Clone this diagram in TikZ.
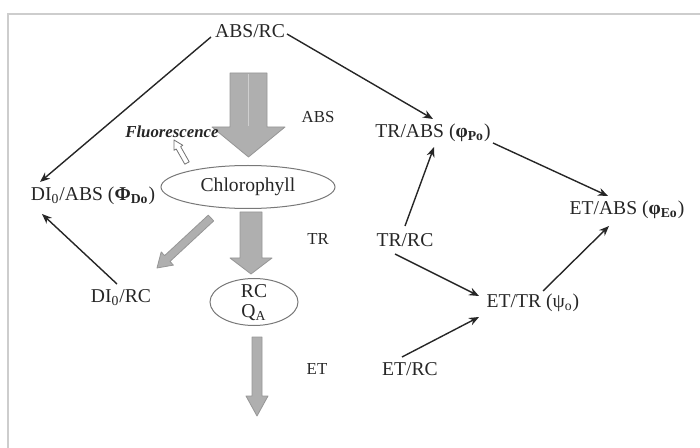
\documentclass[tikz,border=0pt]{standalone}
\usepackage{fontspec}
\setmainfont{Liberation Serif}
\usetikzlibrary{arrows.meta,calc,shapes.geometric}
\definecolor{arrgray}{RGB}{175,175,175}
\definecolor{arredge}{RGB}{150,150,150}
\definecolor{framegray}{RGB}{205,205,205}
\definecolor{ellgray}{RGB}{120,120,120}
\tikzset{
  lbl/.style={inner sep=0pt, font=\fontsize{9.8pt}{11pt}\selectfont, text=black!85},
  stagelbl/.style={inner sep=0pt, font=\fontsize{8.4pt}{10pt}\selectfont, text=black!85},
  conn/.style={draw=black!85, line width=0.7pt, -{Stealth[length=5pt,width=4pt]}},
  blockarr/.style={fill=arrgray, draw=arredge, line width=0.4pt, line join=round},
  hollowarr/.style={fill=white, draw=black!55, line width=0.4pt, line join=round},
  ell/.style={draw=ellgray, line width=0.5pt, fill=white, ellipse, inner sep=0pt}
}
\begin{document}
\begin{tikzpicture}[x=0.5pt,y=-0.5pt]
\useasboundingbox (0,0) rectangle (700,448);
% frame
\draw[framegray, line width=1pt] (8,448) -- (8,14) -- (700,14);

% grey block arrows
\draw[blockarr] (230,73) -- (267,73) -- (267,127) -- (285,127) -- (248.5,157) -- (212,127) -- (230,127) -- cycle;
\draw[white!40!arrgray, line width=0.6pt] (248.5,74) -- (248.5,126);
\draw[blockarr] (240,212) -- (262,212) -- (262,258) -- (272,258) -- (251,274) -- (230,258) -- (240,258) -- cycle;
\draw[blockarr] (252,337) -- (262,337) -- (262,396) -- (268,396) -- (257,416) -- (246,396) -- (252,396) -- cycle;
\draw[blockarr] (208.3,215.1) -- (164.6,255.6) -- (161.2,251.9) -- (157,268) -- (173.4,265.1) -- (170.0,261.4) -- (213.7,220.9) -- cycle;
\draw[hollowarr] (189.2,161.8) -- (180.6,146.6) -- (182.8,145.3) -- (174,140) -- (174.0,150.3) -- (176.2,149.0) -- (184.8,164.2) -- cycle;

% ellipses
\node[ell, minimum width=87pt, minimum height=21.5pt, lbl] (chl) at (248,187) {Chlorophyll};
\node[ell, minimum width=44pt, minimum height=23.5pt] (rcqa) at (254,302) {};
\node[lbl, align=center, font=\fontsize{9.8pt}{10pt}\selectfont] (rcqatext) at (254,303) {RC\\Q\textsubscript{A}};

% labels
\node[lbl] (absrc) at (250,31) {ABS/RC};
\node[lbl] (diabs) at (93,196) {DI\textsubscript{0}/ABS (\textbf{Φ\textsubscript{Do}})};
\node[lbl] (dirc) at (121,298) {DI\textsubscript{0}/RC};
\node[lbl] (trabs) at (433,133) {TR/ABS (\textbf{φ\textsubscript{Po}})};
\node[lbl] (etabs) at (627,210) {ET/ABS (\textbf{φ\textsubscript{Eo}})};
\node[lbl] (trrc) at (405,240) {TR/RC};
\node[lbl] (ettr) at (533,303) {ET/TR (ψ\textsubscript{o})};
\node[lbl] (etrc) at (410,369) {ET/RC};
\node[stagelbl] (abs) at (318,117) {ABS};
\node[stagelbl] (tr) at (318,239) {TR};
\node[stagelbl] (et) at (317,369) {ET};
\node[inner sep=0pt, font=\fontsize{8.4pt}{10pt}\selectfont\bfseries\itshape, text=black!85] (fluor) at (172,132) {Fluorescence};

% connectors
\draw[conn] ($(absrc)+(-39,6)$) -- ($(diabs)+(-53,-14)$);
\draw[conn] ($(absrc)+(37,3)$) -- ($(trabs)+(0,-14)$);
\draw[conn] ($(dirc)+(-4,-14)$) -- ($(diabs)+(-51,18)$);
\draw[conn] ($(trrc)+(0,-14)$) -- ($(trabs)+(1,14)$);
\draw[conn] ($(trabs)+(60,10)$) -- ($(etabs)+(-19,-14)$);
\draw[conn] ($(trrc)+(-10,14)$) -- ($(ettr)+(-54,-7)$);
\draw[conn] ($(etrc)+(-8,-12)$) -- ($(ettr)+(-54,14)$);
\draw[conn] ($(ettr)+(10,-12)$) -- ($(etabs)+(-18,16)$);
\end{tikzpicture}
\end{document}
